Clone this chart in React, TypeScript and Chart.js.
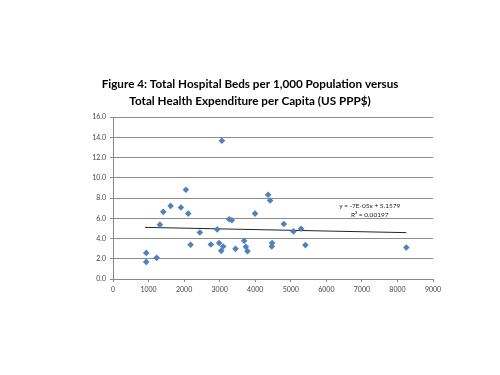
import React, { useEffect, useRef } from "react";
import { Chart, registerables } from "chart.js";

Chart.register(...registerables);

const spendingX = [935, 935, 1227, 1320, 1414, 1620, 1910, 2116, 2182, 2443, 2753, 2930, 2986, 3043, 3099, 3268, 3343, 3446, 3689, 3736, 3783, 3995, 3062, 2051, 4363, 4419, 4803, 5075, 5290, 4475, 4466, 5412, 8250];
const bedsY = [2.58, 1.69, 2.09, 5.37, 6.63, 7.22, 7.06, 6.46, 3.38, 4.6, 3.41, 4.9, 3.55, 2.78, 3.21, 5.9, 5.8, 2.98, 3.78, 3.18, 2.75, 6.46, 13.65, 8.82, 8.32, 7.75, 5.43, 4.7, 4.97, 3.55, 3.21, 3.35, 3.11];
const trendX = [900, 8250];
const trendY = [5.1, 4.58];
const titleLines = ["Figure 4: Total Hospital Beds per 1,000 Population versus", "Total Health Expenditure per Capita (US PPP$)"];
const equationLines = ["y = -7E-05x + 5.1579", "R\u00b2 = 0.00197"];
const equationAnchor = { x: 7220, y: 7.2 };

const FONT = "Lato, 'Open Sans', sans-serif";

const textPlugin = {
  id: "figText",
  afterDraw(chart: any) {
    const ctx = chart.ctx;
    ctx.save();
    ctx.fillStyle = "#000";
    ctx.textAlign = "center";
    ctx.textBaseline = "middle";
    ctx.font = `bold 11.7px ${FONT}`;
    ctx.fillText(titleLines[0], 250, 84);
    ctx.fillText(titleLines[1], 250, 101);
    const xs = chart.scales.x;
    const ys = chart.scales.y;
    const px = xs.getPixelForValue(equationAnchor.x);
    const py = ys.getPixelForValue(equationAnchor.y);
    ctx.font = `6.5px ${FONT}`;
    ctx.fillStyle = "#222";
    ctx.fillText(equationLines[0], px, py);
    ctx.fillText(equationLines[1], px, py + 8.5);
    ctx.restore();
  },
};

export default function App() {
  const ref = useRef<HTMLCanvasElement>(null);
  useEffect(() => {
    document.body.style.margin = "0";
    const points = spendingX.map((x, i) => ({ x, y: bedsY[i] }));
    const trend = trendX.map((x, i) => ({ x, y: trendY[i] }));
    const chart = new Chart(ref.current!, {
      type: "scatter",
      data: {
        datasets: [
          {
            data: points,
            pointStyle: "rectRot",
            pointRadius: 3.3,
            backgroundColor: "#4F81BD",
            borderColor: "#4F81BD",
            borderWidth: 0,
          },
          {
            type: "line",
            data: trend,
            borderColor: "#222",
            borderWidth: 1,
            pointRadius: 0,
            fill: false,
          },
        ],
      },
      options: {
        animation: false,
        responsive: false,
        layout: { padding: { left: 86, right: 67, top: 117, bottom: 76 } },
        plugins: { legend: { display: false }, tooltip: { enabled: false }, title: { display: false } },
        scales: {
          x: {
            type: "linear",
            min: 0,
            max: 9000,
            ticks: {
              stepSize: 1000,
              font: { size: 7, family: FONT },
              color: "#444",
              padding: 4,
              callback: (v: any) => String(v),
            },
            grid: { drawOnChartArea: false, tickLength: 3, color: "#888" },
            border: { color: "#888" },
            afterFit: (s: any) => { s.height = 20; },
          },
          y: {
            min: 0,
            max: 16,
            ticks: {
              stepSize: 2,
              font: { size: 7, family: FONT },
              color: "#444",
              padding: 4,
              callback: (v: any) => Number(v).toFixed(1),
            },
            grid: { color: "#8c8c8c", tickLength: 3 },
            border: { color: "#888" },
            afterFit: (s: any) => { s.width = 27; },
          },
        },
      },
      plugins: [textPlugin],
    });
    return () => chart.destroy();
  }, []);
  return (
    <div style={{ width: 500, height: 375 }}>
      <canvas ref={ref} width={500} height={375} style={{ display: "block" }} />
    </div>
  );
}
